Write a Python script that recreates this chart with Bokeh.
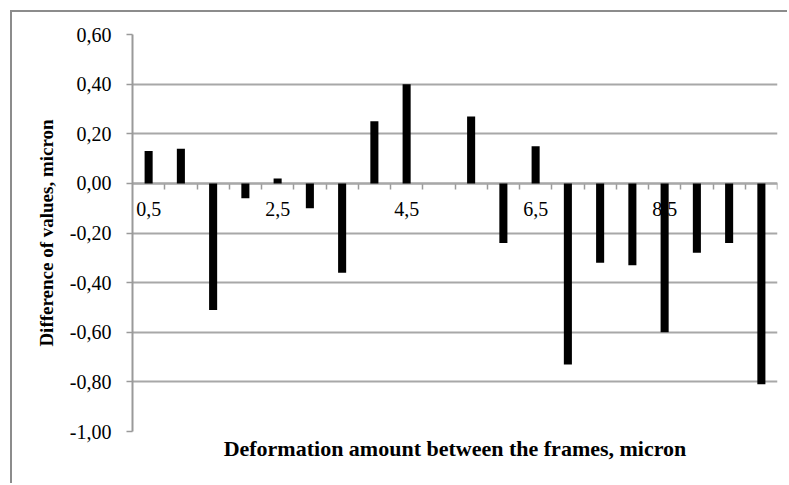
from bokeh.plotting import figure
from bokeh.models import LinearAxis, FixedTicker, CustomJSTickFormatter, Range1d, ColumnDataSource
from bokeh.embed import file_html
from bokeh.resources import INLINE

# ---- data ----
deformation = [0.5, 1.0, 1.5, 2.0, 2.5, 3.0, 3.5, 4.0, 4.5, 5.0,
               5.5, 6.0, 6.5, 7.0, 7.5, 8.0, 8.5, 9.0, 9.5, 10.0]
difference = [0.13, 0.14, -0.51, -0.06, 0.02, -0.10, -0.36, 0.25, 0.40, 0.00,
              0.27, -0.24, 0.15, -0.73, -0.32, -0.33, -0.60, -0.28, -0.24, -0.81]
y_ticks = [-1.0, -0.8, -0.6, -0.4, -0.2, 0.0, 0.2, 0.4, 0.6]
x_label_ticks = [0.5, 2.5, 4.5, 6.5, 8.5]
x_title = "Deformation amount between the frames, micron"
y_title = "Difference of values, micron"

step = deformation[1] - deformation[0]
boundaries = [d + step / 2 for d in deformation]

FONT = "Liberation Serif"
GRID = "#a8a8a8"
AXIS = "#9a9a9a"

source = ColumnDataSource(data=dict(x=deformation, top=difference))

p = figure(width=777, height=473, output_backend="svg", toolbar_location=None,
           x_range=Range1d(deformation[0] - step / 2, deformation[-1] + step / 2),
           y_range=Range1d(y_ticks[0], y_ticks[-1]),
           min_border_left=120, min_border_right=12, min_border_top=22, min_border_bottom=54)
p.margin = (10, 0, 0, 10)
p.styles = {"border-left": "2px solid #8c8c8c", "border-top": "2px solid #8c8c8c"}
p.outline_line_color = None
p.background_fill_color = "white"
p.border_fill_color = "white"

p.vbar(x="x", top="top", bottom=0, width=step * 0.25, fill_color="black", line_color=None, source=source)

# bottom axis only carries the x title
p.xaxis.ticker = FixedTicker(ticks=[])
p.xaxis.axis_line_color = None
p.xaxis.major_tick_line_color = None
p.xaxis.minor_tick_line_color = None
p.xaxis.axis_label = x_title
p.xaxis.axis_label_text_font = FONT
p.xaxis.axis_label_text_font_style = "bold"
p.xaxis.axis_label_text_font_size = "22px"
p.xaxis.axis_label_text_color = "black"
p.xaxis.axis_label_standoff = 4
p.xgrid.visible = False

# zero-line axis with tick marks between categories
tick_axis = LinearAxis(fixed_location=0, ticker=FixedTicker(ticks=boundaries),
                       formatter=CustomJSTickFormatter(code="return ''"),
                       axis_line_color=AXIS, axis_line_width=2,
                       major_tick_line_color=AXIS, major_tick_line_width=1.5,
                       major_tick_in=0, major_tick_out=6,
                       minor_tick_line_color=None, level="underlay")
p.add_layout(tick_axis, "below")

# zero-line axis carrying category labels
label_axis = LinearAxis(fixed_location=0, ticker=FixedTicker(ticks=x_label_ticks),
                        formatter=CustomJSTickFormatter(code="return tick.toFixed(1).replace('.', ',')"),
                        axis_line_color=None, major_tick_line_color=None, minor_tick_line_color=None,
                        major_label_standoff=13,
                        major_label_text_font=FONT, major_label_text_font_size="20px",
                        major_label_text_color="black", level="underlay")
p.add_layout(label_axis, "below")

# y axis
p.yaxis.ticker = FixedTicker(ticks=y_ticks)
p.yaxis.formatter = CustomJSTickFormatter(code="return tick.toFixed(2).replace('.', ',')")
p.yaxis.axis_line_color = AXIS
p.yaxis.axis_line_width = 2
p.yaxis.major_tick_line_color = AXIS
p.yaxis.major_tick_line_width = 1.5
p.yaxis.major_tick_in = 0
p.yaxis.major_tick_out = 6
p.yaxis.minor_tick_line_color = None
p.yaxis.major_label_standoff = 15
p.yaxis.major_label_text_font = FONT
p.yaxis.major_label_text_font_size = "20px"
p.yaxis.major_label_text_color = "black"
p.yaxis.axis_label = y_title
p.yaxis.axis_label_text_font = FONT
p.yaxis.axis_label_text_font_style = "bold"
p.yaxis.axis_label_text_font_size = "19px"
p.yaxis.axis_label_text_color = "black"
p.yaxis.axis_label_standoff = 10

p.ygrid.ticker = FixedTicker(ticks=y_ticks)
p.ygrid.grid_line_color = GRID
p.ygrid.grid_line_width = 2

open("out.html", "w").write(file_html(p, INLINE))
